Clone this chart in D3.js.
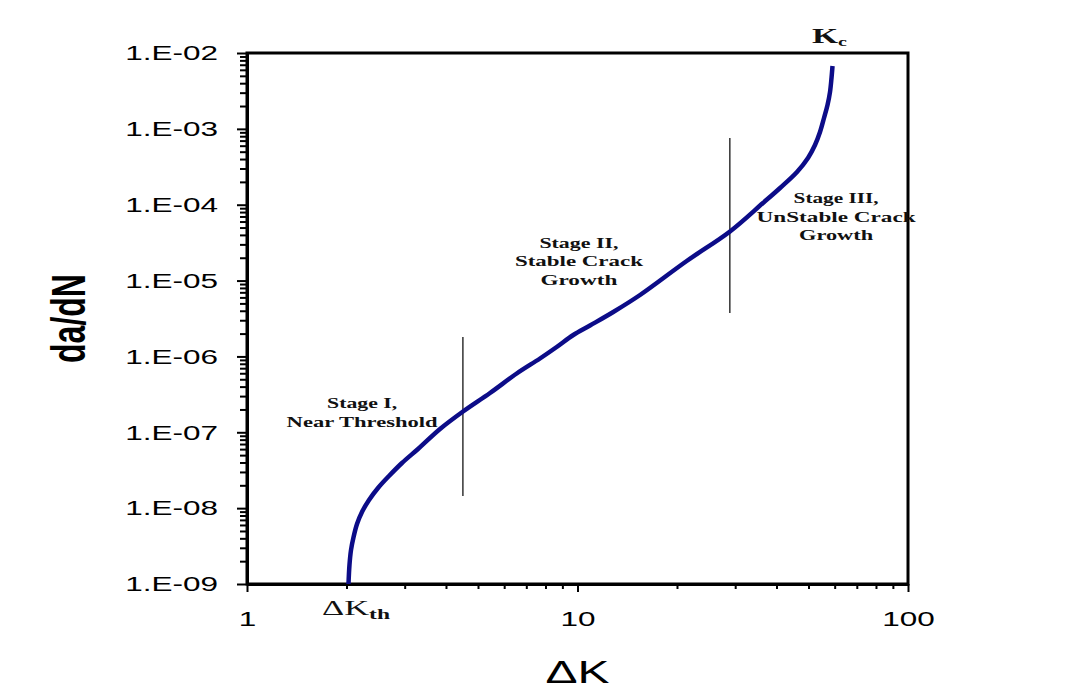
<!DOCTYPE html>
<html>
<head>
<meta charset="utf-8">
<script src="https://cdn.jsdelivr.net/npm/d3@7"></script>
<style>
  html, body { margin: 0; padding: 0; background: #fff; }
  svg { display: block; }
</style>
</head>
<body>
<svg id="chart" width="1078" height="691"></svg>
<script>
// ---- data ----
const deltaK = [2.028, 2.042, 2.064, 2.101, 2.152, 2.228, 2.340, 2.491, 2.689, 2.944, 3.292, 3.837,
  4.504, 5.436, 6.548, 7.700, 8.650, 9.712, 10.91, 12.83, 15.46, 21.40, 28.93, 36.41, 41.01,
  46.15, 49.82, 52.31, 54.17, 55.70, 57.08, 58.08, 58.69, 59.10];
const dadN = [1.0e-9, 1.780e-9, 2.806e-9, 4.165e-9, 6.178e-9, 8.894e-9, 1.280e-8, 1.843e-8, 2.653e-8,
  3.937e-8, 6.020e-8, 1.105e-7, 1.879e-7, 3.295e-7, 5.955e-7, 9.391e-7, 1.331e-6, 1.916e-6,
  2.557e-6, 3.852e-6, 6.452e-6, 1.811e-5, 4.435e-5, 1.053e-4, 1.661e-4, 2.700e-4, 4.128e-4,
  6.125e-4, 9.09e-4, 1.390e-3, 2.063e-3, 3.061e-3, 4.682e-3, 6.741e-3];
const xTickLabels = [1, 10, 100];
const yTickValues = [1e-9, 1e-8, 1e-7, 1e-6, 1e-5, 1e-4, 1e-3, 1e-2];
const yTickLabels = ["1.E-09", "1.E-08", "1.E-07", "1.E-06", "1.E-05", "1.E-04", "1.E-03", "1.E-02"];
// stage boundary lines: K, upper and lower da/dN
const boundaryK = [4.5, 28.9];
const boundaryTop = [1.8e-6, 7.6e-4];
const boundaryBottom = [1.45e-8, 3.74e-6];
// stage annotations (anchor in data units: centre K, first-line da/dN)
const stageLines = [["Stage I,", "Near Threshold"], ["Stage II,", "Stable Crack", "Growth"], ["Stage III,", "UnStable Crack", "Growth"]];
const stageK = [2.23, 10.1, 60.6];
const stageY = [2.09e-7, 2.69e-5, 1.05e-4];
const xTitle = "ΔK";
const yTitle = "da/dN";

// ---- layout ----
const SX = 1.5; // horizontal stretch of the original picture's lettering
const svg = d3.select("#chart");
const x = d3.scaleLog().domain([1, 100]).range([247, 908]);
const y = d3.scaleLog().domain([1e-9, 1e-2]).range([584, 53]);
const sans = "'Liberation Sans', Arial, sans-serif";
const serif = "'Liberation Serif', 'Times New Roman', serif";

// frame (top/right)
svg.append("rect")
  .attr("x", x(1)).attr("y", y(1e-2))
  .attr("width", x(100) - x(1)).attr("height", y(1e-9) - y(1e-2))
  .attr("fill", "none").attr("stroke", "#000").attr("stroke-width", 3);

// x axis
const xTicks = x.ticks();
const xAxis = svg.append("g").attr("transform", `translate(0,${y(1e-9)})`)
  .call(d3.axisBottom(x).tickValues(xTicks)
    .tickFormat(d => xTickLabels.includes(d) ? String(d) : "")
    .tickSizeOuter(0));
xAxis.select(".domain").attr("stroke-width", 3);
xAxis.selectAll(".tick line")
  .attr("stroke-width", 2)
  .attr("y2", d => xTickLabels.includes(d) ? 8 : 5);
xAxis.selectAll(".tick text")
  .attr("y", 0).attr("dy", 0)
  .attr("transform", `translate(0,42) scale(${SX},1)`)
  .style("font-family", sans)
  .style("font-size", "21px").attr("fill", "#000");

// y axis
const yMinor = y.ticks();
const isMajorY = d => yTickValues.some(v => Math.abs(v - d) / v < 1e-6);
const yAxis = svg.append("g").attr("transform", `translate(${x(1)},0)`)
  .call(d3.axisLeft(y).tickValues(yMinor)
    .tickFormat(d => { const i = yTickValues.findIndex(v => Math.abs(v - d) / v < 1e-6); return i >= 0 ? yTickLabels[i] : ""; })
    .tickSizeOuter(0));
yAxis.select(".domain").attr("stroke-width", 3);
yAxis.selectAll(".tick line")
  .attr("stroke-width", 2)
  .attr("x2", d => isMajorY(d) ? -10 : -7);
yAxis.selectAll(".tick text")
  .attr("x", 0)
  .attr("transform", `translate(-29,0) scale(${SX},1)`)
  .style("font-family", sans)
  .style("font-size", "21px").attr("fill", "#000");

// axis titles
svg.append("text")
  .attr("transform", `translate(85,${(y(1e-9) + y(1e-2)) / 2}) scale(${SX},1) rotate(-90)`)
  .attr("text-anchor", "middle")
  .style("font-family", sans)
  .style("font-size", "32px").style("font-weight", "bold")
  .text(yTitle);
svg.append("text")
  .attr("transform", `translate(${(x(1) + x(100)) / 2},683) scale(${SX},1)`)
  .attr("text-anchor", "middle")
  .style("font-family", sans)
  .style("font-size", "32px")
  .text(xTitle);

// boundary lines
svg.selectAll("line.boundary").data(boundaryK).enter().append("line")
  .attr("class", "boundary")
  .attr("x1", d => x(d)).attr("x2", d => x(d))
  .attr("y1", (d, i) => y(boundaryTop[i])).attr("y2", (d, i) => y(boundaryBottom[i]))
  .attr("stroke", "#333").attr("stroke-width", 1.5);

// curve
const pts = deltaK.map((k, i) => [k, dadN[i]]);
svg.append("path")
  .datum(pts)
  .attr("fill", "none").attr("stroke", "#0c0c88").attr("stroke-width", 4.5)
  .attr("stroke-linejoin", "round").attr("stroke-linecap", "butt")
  .attr("d", d3.line().x(d => x(d[0])).y(d => y(d[1])).curve(d3.curveCatmullRom.alpha(0.5)));

// stage annotations
const stageWidths = [[70, 151], [79, 128, 77], [85, 159, 74]];
const lineGap = [19, 18.5, 18.5];
stageLines.forEach((lines, si) => {
  lines.forEach((t, li) => {
    svg.append("text")
      .attr("x", x(stageK[si])).attr("y", y(stageY[si]) + li * lineGap[si])
      .attr("text-anchor", "middle")
      .attr("textLength", stageWidths[si][li]).attr("lengthAdjust", "spacingAndGlyphs")
      .style("font-family", serif)
      .style("font-size", "15px").style("font-weight", "bold")
      .attr("fill", "#111")
      .text(t);
  });
});

// Kc label
const kc = svg.append("text")
  .attr("x", x(51.2)).attr("y", y(1.355e-2))
  .attr("textLength", 35).attr("lengthAdjust", "spacingAndGlyphs")
  .style("font-family", serif)
  .style("font-size", "22px").style("font-weight", "bold").attr("fill", "#111");
kc.append("tspan").text("K");
kc.append("tspan").attr("dy", 3).style("font-size", "13px").text("c");

// ΔKth label
const kth = svg.append("text")
  .attr("x", x(1.686)).attr("y", y(3.91e-10))
  .attr("textLength", 68).attr("lengthAdjust", "spacingAndGlyphs")
  .style("font-family", serif)
  .style("font-size", "22px").attr("fill", "#111");
kth.append("tspan").text("ΔK");
kth.append("tspan").attr("dy", 4).style("font-size", "15px").style("font-weight", "bold").text("th");
</script>
</body>
</html>
